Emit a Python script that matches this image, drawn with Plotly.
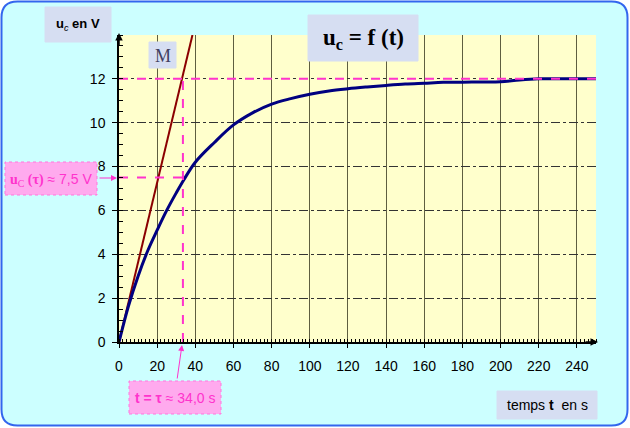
import plotly.graph_objects as go

# ---- data ----
t_vals = [0, 5, 10, 15, 20, 25, 30, 34, 40, 50, 60, 70, 80, 90, 100, 110, 120,
          130, 140, 150, 160, 170, 180, 190, 200, 210, 220, 230, 240, 250]
uc_vals = [0, 1.65, 3.0, 4.15, 5.1, 6.0, 6.8, 7.4, 8.2, 9.1, 9.9, 10.45, 10.85,
           11.1, 11.3, 11.45, 11.55, 11.63, 11.7, 11.76, 11.8, 11.84, 11.85,
           11.86, 11.87, 11.95, 12.0, 12.0, 12.0, 12.0]
tangent_t = [0, 38.5]
tangent_u = [0, 14]
tau = 33.5
u_tau = 7.5
u_max = 12
x_ticks = list(range(0, 260, 20))
y_ticks = list(range(0, 14, 2))

W, H = 630, 428
L, R, T, B = 119, 34, 35, 86
PW, PH = W - L - R, H - T - B


def xp(px):
    return (px - L) / PW


def yp(py):
    return (H - B - py) / PH


fig = go.Figure()

# tangent line
fig.add_trace(go.Scatter(x=tangent_t, y=tangent_u, mode="lines",
                         line=dict(color="#8B0000", width=2), hoverinfo="skip"))
# curve
fig.add_trace(go.Scatter(x=t_vals, y=uc_vals, mode="lines", line_shape="spline",
                         line=dict(color="#000080", width=3), hoverinfo="skip"))
# magenta dashed guides
fig.add_trace(go.Scatter(x=[0, 250], y=[u_max, u_max], mode="lines",
                         line=dict(color="#FF33CC", width=2, dash="dash"), hoverinfo="skip"))
fig.add_trace(go.Scatter(x=[tau, tau], y=[0, u_max], mode="lines",
                         line=dict(color="#FF33CC", width=2, dash="dash"), hoverinfo="skip"))
fig.add_trace(go.Scatter(x=[0, tau], y=[u_tau, u_tau], mode="lines",
                         line=dict(color="#FF33CC", width=2, dash="dash"), hoverinfo="skip"))

shapes = []
# rounded outer frame
x0, x1 = xp(1.5), xp(627.5)
y0, y1 = yp(425.5), yp(1.5)
rx, ry = 16 / PW, 16 / PH
path = (f"M {x0+rx},{y1} L {x1-rx},{y1} Q {x1},{y1} {x1},{y1-ry} "
        f"L {x1},{y0+ry} Q {x1},{y0} {x1-rx},{y0} L {x0+rx},{y0} "
        f"Q {x0},{y0} {x0},{y0+ry} L {x0},{y1-ry} Q {x0},{y1} {x0+rx},{y1} Z")
shapes.append(dict(type="path", xref="paper", yref="paper", path=path,
                   fillcolor="#CCFFFF", line=dict(color="#3366EE", width=2), layer="below"))
# plot area background
shapes.append(dict(type="rect", xref="paper", yref="paper", x0=0, x1=1, y0=0, y1=1,
                   fillcolor="#FFFFCC", line=dict(width=0), layer="below"))


def box(px0, py0, px1, py1, fill, line_color=None, dash=None):
    shapes.append(dict(type="rect", xref="paper", yref="paper",
                       x0=xp(px0), x1=xp(px1), y0=yp(py1), y1=yp(py0),
                       fillcolor=fill,
                       line=dict(color=line_color or fill, width=1, dash=dash)))


box(45, 7, 111, 42, "#D6DEF2")
box(149, 42, 176, 68, "#D6DEF2")
box(308, 15, 418, 61, "#D6DEF2")
box(5, 162, 97, 195, "#FFAAEE", "#FF77DD", "dot")
box(129, 381, 221, 414, "#FFAAEE", "#FF77DD", "dot")
box(497, 391, 597, 419, "#D6DEF2")

annotations = []


def text(px, py, s, size, family="Liberation Sans, Arial", color="black"):
    annotations.append(dict(xref="paper", yref="paper", x=xp(px), y=yp(py), text=s,
                            showarrow=False, xanchor="center", yanchor="middle",
                            font=dict(size=size, family=family, color=color)))


SERIF = "font-family:'Liberation Serif','Times New Roman',serif"
text(78, 25, "<b>u</b><sub><i>c</i></sub><b> en V</b>", 13)
text(163, 56, "M", 18, "Liberation Serif, Times New Roman", "#404060")
text(363, 39, "<b>u<sub>c</sub> = f (t)</b>", 23, "Liberation Serif, Times New Roman")
text(51, 180, f"<span style=\"{SERIF}\"><b>u</b><sub>C</sub><b> (τ)</b></span> ≈ 7,5 V",
     14, "Liberation Sans, Arial", "#FF33CC")
text(175, 398, "<b>t = τ</b> ≈ 34,0 s", 14, "Liberation Sans, Arial", "#FF33CC")
text(547, 405, "temps <b>t</b>  en s", 14)


def arrow(hx, hy, tx, ty, color, width, size):
    annotations.append(dict(xref="paper", yref="paper", x=xp(hx), y=yp(hy),
                            ax=tx - hx, ay=ty - hy, axref="pixel", ayref="pixel", text="",
                            showarrow=True, arrowhead=2, arrowsize=size, arrowwidth=width,
                            arrowcolor=color))


# magenta arrows
arrow(117, 178, 98, 178, "#FF33CC", 1, 1.2)
arrow(182, 345, 177, 380, "#FF33CC", 1, 1.2)
# axis arrows
arrow(W - R + 2, H - B, W - R - 12, H - B, "black", 1.5, 1)
arrow(L, T - 2, L, T + 12, "black", 1.5, 1)

fig.update_layout(
    width=W, height=H, margin=dict(l=L, r=R, t=T, b=B),
    paper_bgcolor="white", plot_bgcolor="rgba(0,0,0,0)",
    showlegend=False, shapes=shapes, annotations=annotations,
    font=dict(family="Liberation Sans, Arial", size=14, color="black"),
)
fig.update_xaxes(range=[0, 250], tickvals=x_ticks, showgrid=True, gridcolor="#5E5E40",
                 gridwidth=1, showline=True, linecolor="black", linewidth=1.5,
                 ticks="outside", ticklen=4, tickcolor="black", ticklabelstandoff=6,
                 minor=dict(dtick=2, tick0=0, ticks="inside", ticklen=3, tickcolor="black",
                            showgrid=False),
                 zeroline=False, fixedrange=True)
fig.update_yaxes(range=[0, 14], tickvals=y_ticks, showgrid=True, gridcolor="#333333",
                 gridwidth=1, griddash="dashdot", showline=True, linecolor="black",
                 linewidth=1.5, ticks="outside", ticklen=5, tickcolor="black",
                 ticklabelstandoff=4,
                 minor=dict(dtick=0.5, tick0=0, ticks="inside", ticklen=4, tickcolor="black",
                            showgrid=False),
                 zeroline=False, fixedrange=True)

fig.write_html("out.html", config={"displayModeBar": False},
               post_script="document.body.style.margin='0';"
               "document.body.style.overflow='hidden';")
